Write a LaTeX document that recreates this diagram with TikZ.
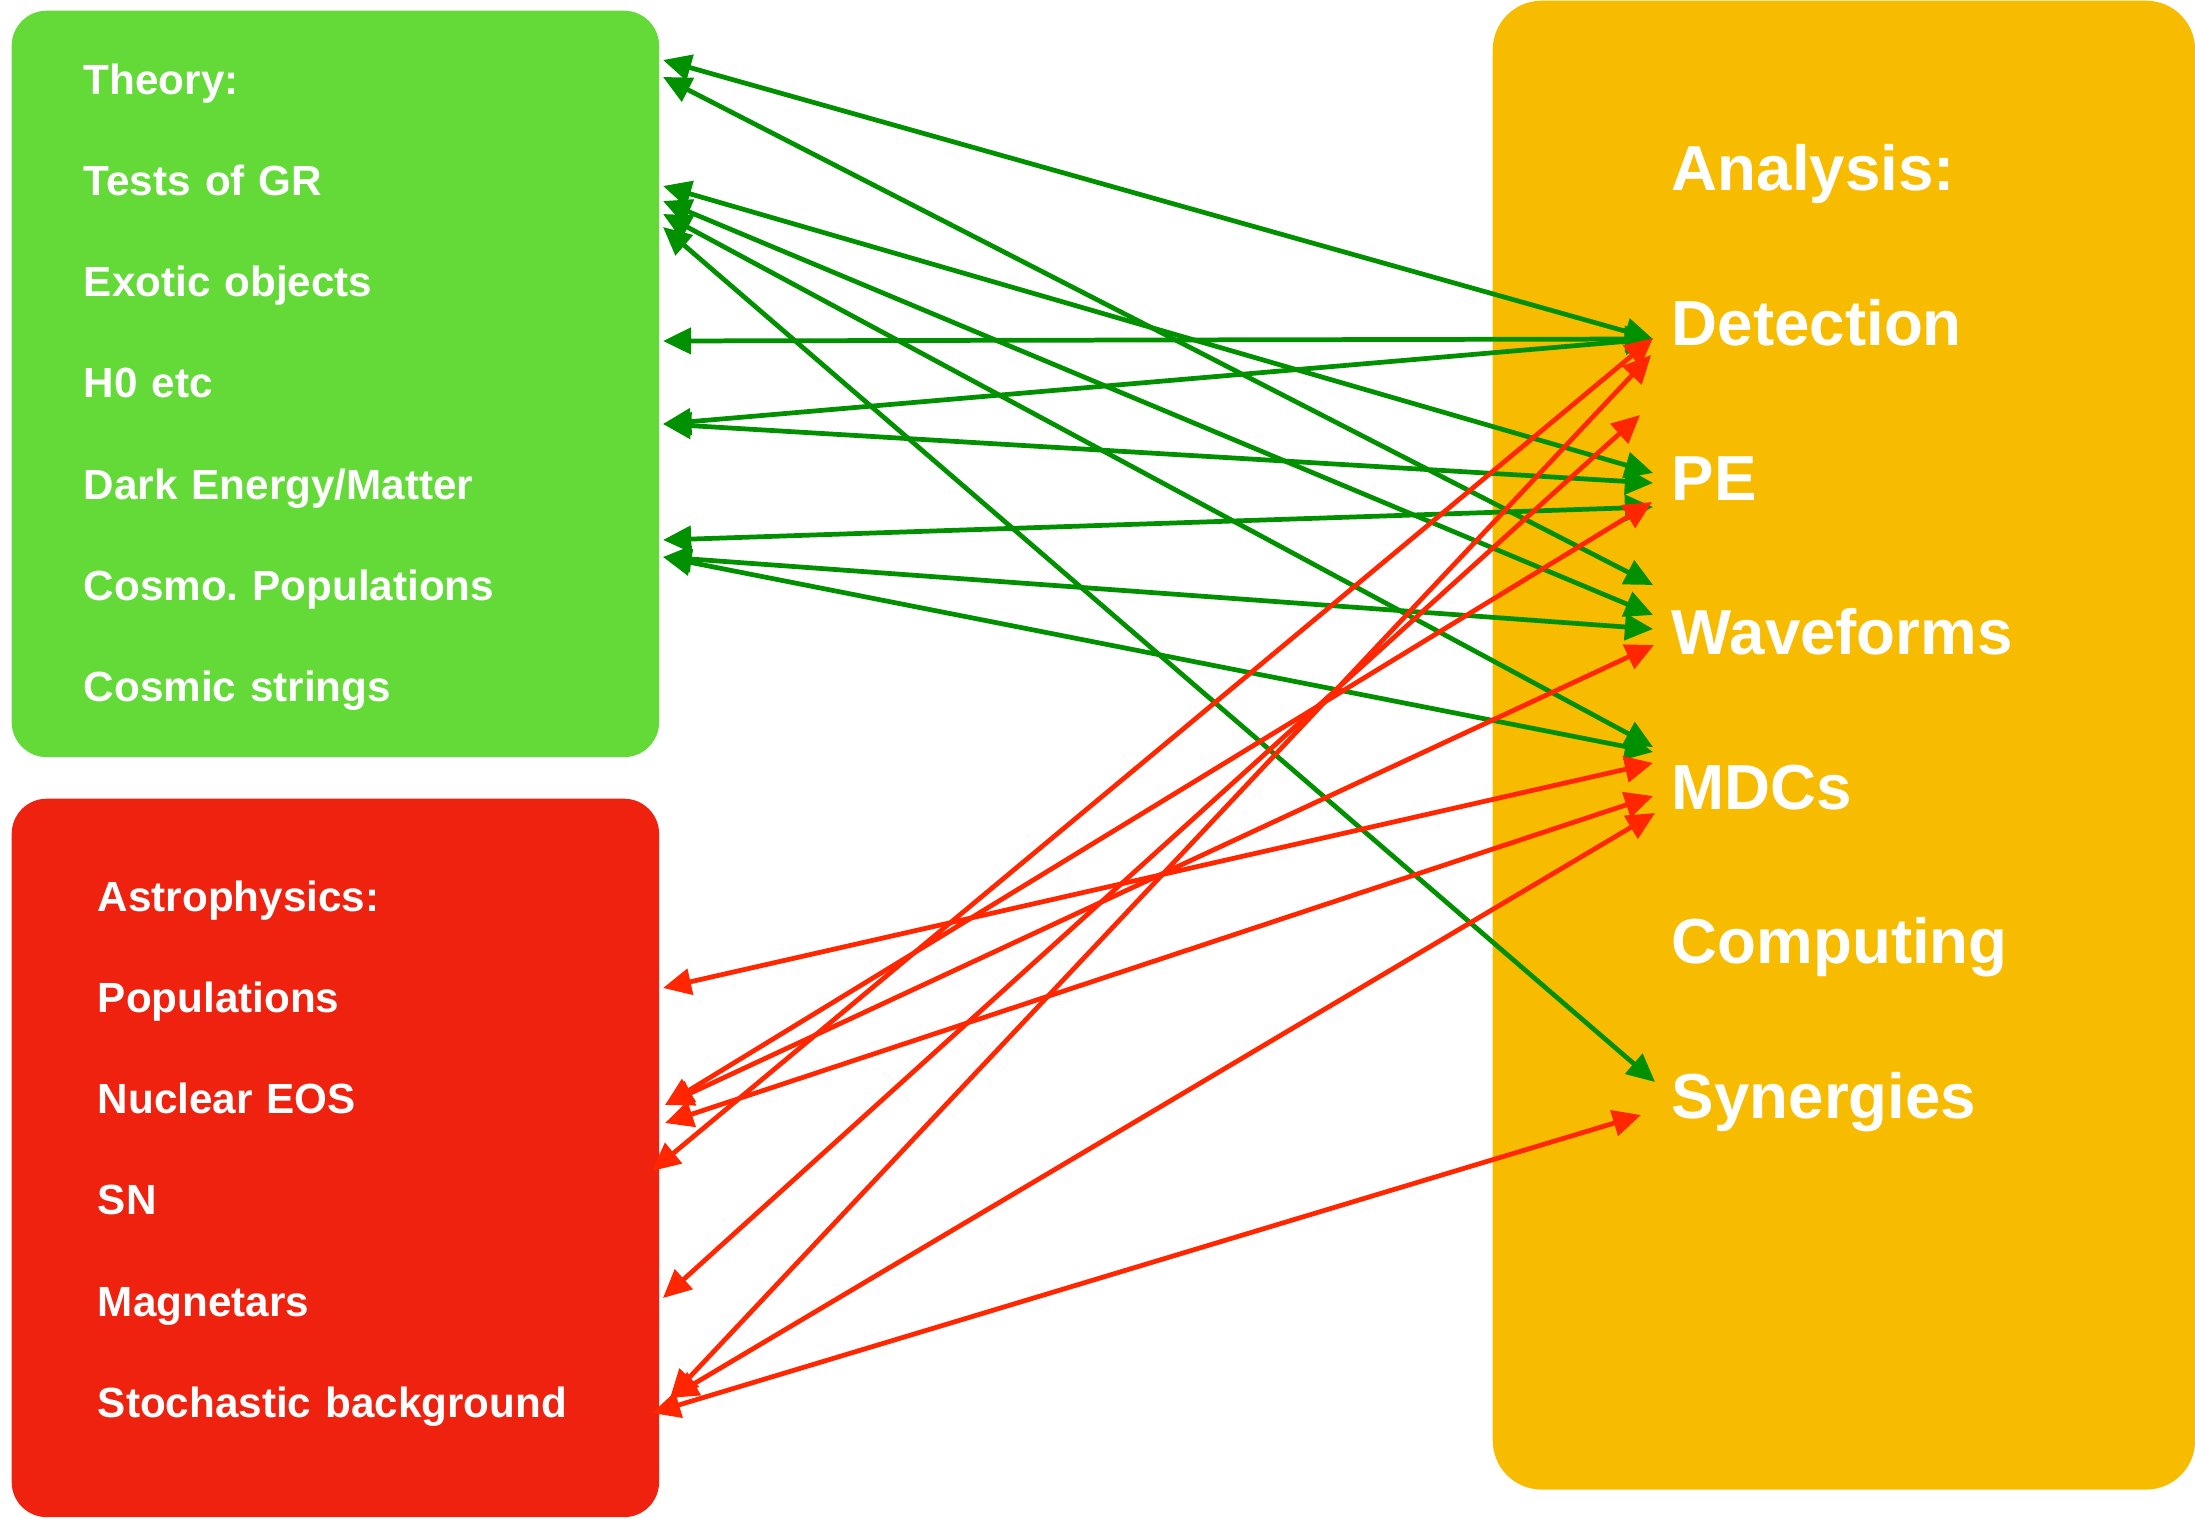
\documentclass[tikz,border=0pt]{standalone}
\usepackage{fontspec}
\setmainfont{Liberation Sans}
\usetikzlibrary{arrows.meta}

\definecolor{theorygreen}{RGB}{99,218,56}
\definecolor{astrored}{RGB}{238,34,15}
\definecolor{analysisorange}{RGB}{247,187,0}
\definecolor{linkgreen}{RGB}{0,144,0}
\definecolor{linkred}{RGB}{255,38,0}

\begin{document}
\begin{tikzpicture}[x=0.01cm, y=0.01cm, >={Triangle[length=8pt, width=7.4pt]}, node distance=1.012cm]
\tikzstyle{group}=[rounded corners=0.35cm, anchor=north west, inner sep=0pt]
\tikzstyle{topic}=[text=white, font=\fontsize{12}{14}\selectfont\bfseries, text width=5cm, align=left, text height=8.6pt, text depth=0pt, inner sep=0pt]
\tikzstyle{task}=[topic, font=\fontsize{18.1}{21}\selectfont\bfseries, text height=13pt, node distance=1.545cm]
\tikzstyle{green link}=[<->, color=linkgreen, line width=1.35pt]
\tikzstyle{red link}=[<->, color=linkred, line width=1.35pt]

\useasboundingbox (0,0) rectangle (2195,-1519);

% boxes
\node[group, fill=theorygreen, minimum width=6.47cm, minimum height=7.46cm] (theorybox) at (11,-10) {};
\node[group, fill=astrored, minimum width=6.47cm, minimum height=7.18cm] (astrobox) at (11,-798) {};
\node[group, fill=analysisorange, rounded corners=0.49cm, minimum width=7.02cm, minimum height=14.88cm] (analysisbox) at (1492,0) {};

% theory
\node[topic] (theory) at (334,-79) {Theory:};
\node[topic] (gr) [below of=theory] {Tests of GR};
\node[topic] (exotic) [below of=gr] {Exotic objects};
\node[topic] (h0) [below of=exotic] {H0 etc};
\node[topic] (dark) [below of=h0] {Dark Energy/Matter};
\node[topic] (cosmo) [below of=dark] {Cosmo.\ Populations};
\node[topic] (strings) [below of=cosmo] {Cosmic strings};

% astrophysics
\node[topic] (astro) at (348,-896) {Astrophysics:};
\node[topic] (pop) [below of=astro] {Populations};
\node[topic] (eos) [below of=pop] {Nuclear EOS};
\node[topic] (sn) [below of=eos] {SN};
\node[topic] (mag) [below of=sn] {Magnetars};
\node[topic] (stoch) [below of=mag] {Stochastic background};

% analysis
\node[task] (analysis) at (1922,-168) {Analysis:};
\node[task] (det) [below of=analysis] {Detection};
\node[task] (pe) [below of=det] {PE};
\node[task] (wave) [below of=pe] {Waveforms};
\node[task] (mdc) [below of=wave] {MDCs};
\node[task] (comp) [below of=mdc] {Computing};
\node[task] (syn) [below of=comp] {Synergies};

% ports on the theory side
\coordinate (theory-p1) at (663,-60);
\coordinate (theory-p2) at (663,-77);
\coordinate (gr-p1) at (663,-186);
\coordinate (gr-p2) at (663,-201);
\coordinate (gr-p3) at (663,-214);
\coordinate (gr-p4) at (663,-227);
\coordinate (exotic-p) at (663,-341);
\coordinate (h0-p) at (663,-424);
\coordinate (dark-p) at (663,-540);
\coordinate (cosmo-p) at (663,-557);

% ports on the astrophysics side
\coordinate (pop-p) at (663,-988);
\coordinate (eos-p1) at (665,-1105);
\coordinate (eos-p2) at (665,-1123);
\coordinate (sn-p) at (652,-1171);
\coordinate (mag-p) at (663,-1298);
\coordinate (stoch-p1) at (670,-1398);
\coordinate (stoch-p2) at (652,-1413);

% ports on the analysis side
\coordinate (det-g) at (1653,-339);
\coordinate (det-r1) at (1653,-338);
\coordinate (det-r2) at (1651,-355);
\coordinate (detpe-r) at (1640,-415);
\coordinate (pe-g1) at (1653,-473);
\coordinate (pe-g2) at (1653,-483);
\coordinate (pe-r) at (1652,-502);
\coordinate (pe-g3) at (1653,-507);
\coordinate (wave-g1) at (1653,-585);
\coordinate (wave-g2) at (1653,-615);
\coordinate (wave-g3) at (1653,-629);
\coordinate (wave-r) at (1654,-645);
\coordinate (mdc-g1) at (1653,-747);
\coordinate (mdc-g2) at (1653,-752);
\coordinate (mdc-r1) at (1653,-763);
\coordinate (mdc-r2) at (1653,-796);
\coordinate (mdc-r3) at (1655,-813);
\coordinate (syn-g) at (1655,-1082);
\coordinate (syn-r) at (1641,-1115);

% theory links
\path[green link] (theory-p1) edge (det-g);
\path[green link] (theory-p2) edge (wave-g1);
\path[green link] (gr-p1) edge (pe-g1);
\path[green link] (gr-p2) edge (wave-g2);
\path[green link] (gr-p3) edge (mdc-g1);
\path[green link] (gr-p4) edge (syn-g);
\path[green link] (exotic-p) edge (det-g);
\path[green link] (h0-p) edge (det-g);
\path[green link] (h0-p) edge (pe-g2);
\path[green link] (dark-p) edge (pe-g3);
\path[green link] (cosmo-p) edge (wave-g3);
\path[green link] (cosmo-p) edge (mdc-g2);

% astrophysics links
\path[red link] (pop-p) edge (mdc-r1);
\path[red link] (eos-p1) edge (pe-r);
\path[red link] (eos-p1) edge (wave-r);
\path[red link] (eos-p2) edge (mdc-r2);
\path[red link] (sn-p) edge (det-r1);
\path[red link] (mag-p) edge (detpe-r);
\path[red link] (stoch-p1) edge (det-r2);
\path[red link] (stoch-p1) edge (mdc-r3);
\path[red link] (stoch-p2) edge (syn-r);
\end{tikzpicture}
\end{document}
